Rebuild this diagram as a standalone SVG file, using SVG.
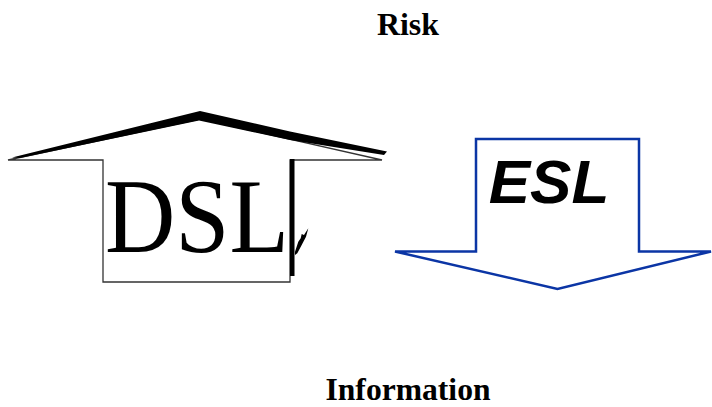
<svg xmlns="http://www.w3.org/2000/svg" width="712" height="407" viewBox="0 0 712 407">
<style>
.title{font-family:"Liberation Serif","Times New Roman",serif;font-weight:bold;font-size:31px;fill:#000;text-anchor:middle}
.outline{fill:none;stroke:#333;stroke-width:1.3;stroke-linejoin:miter}
.blue{fill:#fff;stroke:#0b35a5;stroke-width:2.5;stroke-linejoin:miter}
</style>
<rect width="712" height="407" fill="#fff"/>
<text class="title" x="408" y="35" textLength="62" lengthAdjust="spacingAndGlyphs">Risk</text>
<text class="title" x="408" y="400" textLength="165" lengthAdjust="spacingAndGlyphs">Information</text>
<g id="dsl">
  <polyline class="outline" points="200,119 8,160 103,160 103,282 290,282 290,160 382,160 200,119"/>
  <polygon fill="#000" points="12,157.5 200,111 290,131.5 387,151.5 384,155 290,140 199,120.5 20,158"/>
  <text x="105" y="252" font-family="'Liberation Serif','Times New Roman',serif" font-size="106" fill="#000" textLength="184" lengthAdjust="spacingAndGlyphs">DSL</text>
  <rect x="290" y="159" width="4.5" height="117" fill="#000"/>
  <polygon fill="#000" points="295,251.7 298.3,241.7 300.7,238.3 301.7,234 304,235 308.3,228.3 306,236.7 301.7,245 297.3,253.3 295,255"/>
</g>
<g id="esl">
  <polygon class="blue" points="476,139 639,139 639,251.5 711,251.5 557.5,289 395,251.5 476,251.5"/>
  <text x="549" y="203" font-family="'Liberation Sans',Arial,sans-serif" font-size="62" font-weight="bold" font-style="italic" fill="#000" text-anchor="middle">ESL</text>
</g>
</svg>
